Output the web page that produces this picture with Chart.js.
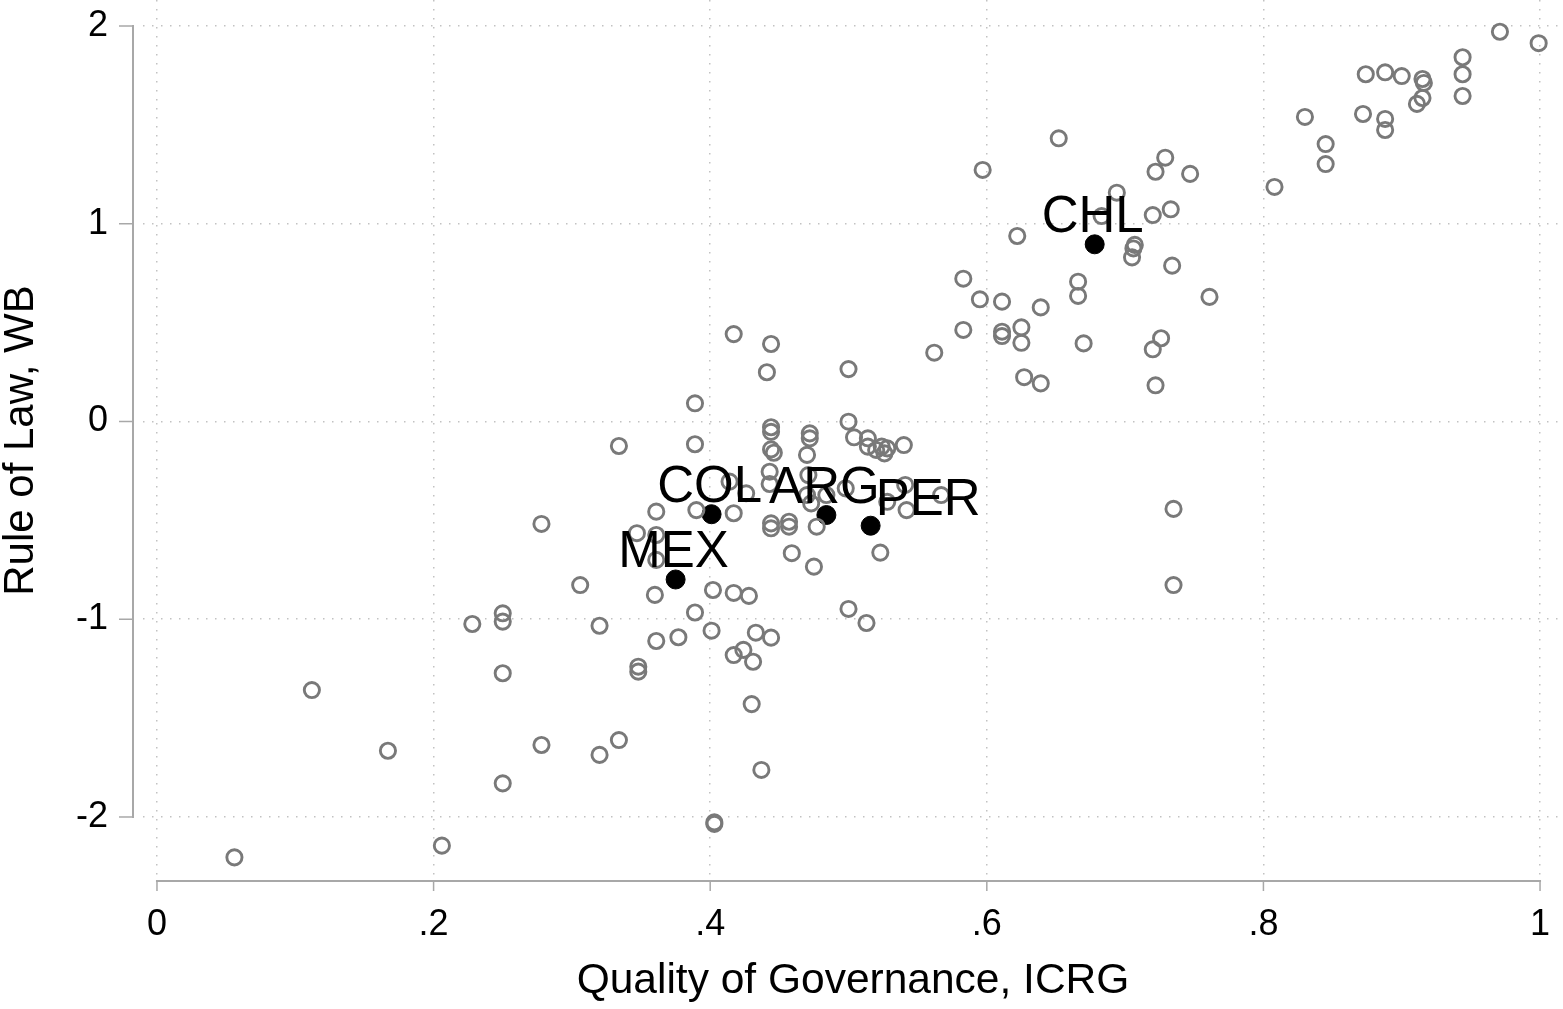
<!DOCTYPE html>
<html>
<head>
<meta charset="utf-8">
<script src="https://cdn.jsdelivr.net/npm/chart.js@4.4.1/dist/chart.umd.min.js"></script>
<style>
  html, body { margin: 0; padding: 0; background: #ffffff; }
  #wrap { width: 1563px; height: 1009px; }
</style>
</head>
<body>
<div id="wrap"><canvas id="c" width="1563" height="1009"></canvas></div>
<script>
// ---------------- DATA ----------------
// Other countries: Quality of Governance (ICRG) vs Rule of Law (WB)
const otherQoG = [
  0.971, 0.999, 0.944, 0.944, 0.944, 0.874, 0.888, 0.900, 0.915, 0.916, 0.915, 0.911,
  0.830, 0.872, 0.888, 0.888, 0.845, 0.845, 0.808,
  0.652, 0.597, 0.729, 0.722, 0.747, 0.694, 0.683, 0.720, 0.733, 0.622, 0.707, 0.706,
  0.705, 0.734, 0.583, 0.666, 0.666, 0.595, 0.611, 0.639, 0.761, 0.583, 0.611, 0.611,
  0.625, 0.625, 0.670, 0.726, 0.720, 0.562, 0.627, 0.639, 0.722, 0.735, 0.735,
  0.417, 0.444, 0.441, 0.500, 0.389, 0.334, 0.389, 0.444, 0.444, 0.444, 0.446, 0.472,
  0.472, 0.500, 0.504, 0.514, 0.514, 0.520, 0.524, 0.526, 0.528, 0.540, 0.470, 0.443,
  0.443, 0.414, 0.426, 0.471, 0.470, 0.484, 0.473, 0.498, 0.528, 0.542, 0.567, 0.541,
  0.361, 0.390, 0.417, 0.444, 0.444, 0.457, 0.457, 0.459, 0.477, 0.523, 0.475, 0.278,
  0.347, 0.361, 0.361, 0.306, 0.360, 0.402, 0.417, 0.428, 0.389, 0.228, 0.250, 0.250,
  0.320, 0.401, 0.361, 0.377, 0.433, 0.444, 0.417, 0.424, 0.431, 0.348, 0.348, 0.250,
  0.112, 0.430, 0.278, 0.167, 0.320, 0.334, 0.437, 0.250, 0.403, 0.403, 0.206, 0.056,
  0.500, 0.513
];
const otherRoL = [
  1.971, 1.913, 1.842, 1.756, 1.646, 1.756, 1.766, 1.747, 1.732, 1.712, 1.636, 1.606,
  1.540, 1.555, 1.530, 1.474, 1.403, 1.302, 1.186,
  1.432, 1.272, 1.334, 1.263, 1.252, 1.157, 1.039, 1.044, 1.073, 0.938, 0.893, 0.875,
  0.830, 0.788, 0.722, 0.707, 0.635, 0.618, 0.606, 0.577, 0.630, 0.463, 0.454, 0.432,
  0.476, 0.398, 0.395, 0.421, 0.365, 0.348, 0.224, 0.193, 0.183, -0.442, -0.827,
  0.442, 0.392, 0.249, 0.265, 0.092, -0.124, -0.115, -0.029, -0.052, -0.141, -0.158, -0.060,
  -0.085, -0.001, -0.080, -0.085, -0.127, -0.144, -0.127, -0.161, -0.136, -0.119, -0.169, -0.254,
  -0.316, -0.304, -0.363, -0.271, -0.372, -0.372, -0.414, -0.338, -0.406, -0.448, -0.372, -0.321,
  -0.456, -0.448, -0.464, -0.515, -0.540, -0.507, -0.532, -0.666, -0.532, -0.663, -0.734, -0.518,
  -0.565, -0.574, -0.700, -0.827, -0.877, -0.852, -0.867, -0.882, -0.966, -1.024, -0.970, -1.012,
  -1.033, -1.058, -1.110, -1.091, -1.068, -1.093, -1.181, -1.155, -1.215, -1.240, -1.265, -1.273,
  -1.358, -1.429, -1.636, -1.665, -1.686, -1.611, -1.762, -1.830, -2.027, -2.035, -2.145, -2.204,
  -0.948, -1.019
];

// Highlighted Latin American countries
const hlLabels = ['CHL', 'COL', 'ARG', 'PER', 'MEX'];
const hlQoG    = [0.678, 0.401, 0.484, 0.516, 0.375];
const hlRoL    = [0.896, -0.469, -0.473, -0.527, -0.799];

// Axis ticks
const xTickValues = [0, 0.2, 0.4, 0.6, 0.8, 1];
const xTickLabels = ['0', '.2', '.4', '.6', '.8', '1'];
const yTickValues = [-2, -1, 0, 1, 2];
const yTickLabels = ['-2', '-1', '0', '1', '2'];

const xTitle = 'Quality of Governance, ICRG';
const yTitle = 'Rule of Law, WB';

// ---------------- STYLE ----------------
const FONT = "'Liberation Sans', Arial, Helvetica, sans-serif";
const GRID_COLOR = '#c2c2c2';
const AXIS_COLOR = '#a8a8a8';
const labelPlacement = { PER: 'right' }; // others centred above the marker

// Axis ranges (extend a little beyond the tick range, as in the reference)
const X_MIN = -0.0101, X_MAX = 1.0166;
const Y_MIN = -2.3237, Y_MAX = 2.1315;

const toPoints = (xs, ys) => xs.map((x, i) => ({ x: x, y: ys[i] }));
const noPad = s => { s.paddingTop = 0; s.paddingBottom = 0; s.paddingLeft = 0; s.paddingRight = 0; };

// Plugin: Stata-like axis lines that only span the tick range, with tick marks
const axisLines = {
  id: 'axisLines',
  afterDraw(chart) {
    const { ctx } = chart;
    const xs = chart.scales.x, ys = chart.scales.y;
    ctx.save();
    ctx.strokeStyle = AXIS_COLOR;
    ctx.lineWidth = 2;
    ctx.lineCap = 'butt';
    // y axis
    const yAxisX = chart.chartArea.left - 10;
    ctx.beginPath();
    ctx.moveTo(yAxisX, ys.getPixelForValue(yTickValues[0]) + 1);
    ctx.lineTo(yAxisX, ys.getPixelForValue(yTickValues[yTickValues.length - 1]) - 1);
    ctx.stroke();
    ctx.lineWidth = 1.5;
    yTickValues.forEach(v => {
      const p = ys.getPixelForValue(v);
      ctx.beginPath(); ctx.moveTo(yAxisX - 14, p); ctx.lineTo(yAxisX, p); ctx.stroke();
    });
    // x axis
    ctx.lineWidth = 2;
    const xAxisY = chart.chartArea.bottom;
    ctx.beginPath();
    ctx.moveTo(xs.getPixelForValue(xTickValues[0]) - 1, xAxisY);
    ctx.lineTo(xs.getPixelForValue(xTickValues[xTickValues.length - 1]) + 1, xAxisY);
    ctx.stroke();
    ctx.lineWidth = 1.5;
    xTickValues.forEach(v => {
      const p = xs.getPixelForValue(v);
      ctx.beginPath(); ctx.moveTo(p, xAxisY); ctx.lineTo(p, xAxisY + 10); ctx.stroke();
    });
    ctx.restore();
  }
};

// Plugin: country labels for highlighted points
const pointLabels = {
  id: 'pointLabels',
  afterDatasetsDraw(chart) {
    const { ctx } = chart;
    const meta = chart.getDatasetMeta(1);
    ctx.save();
    ctx.fillStyle = '#000000';
    ctx.font = '51px ' + FONT;
    ctx.textBaseline = 'alphabetic';
    meta.data.forEach((el, i) => {
      const lab = hlLabels[i];
      if (labelPlacement[lab] === 'right') {
        ctx.textAlign = 'left';
        ctx.fillText(lab, el.x + 5, el.y - 11);
      } else {
        ctx.textAlign = 'center';
        ctx.fillText(lab, el.x - 2, el.y - 12);
      }
    });
    ctx.restore();
  }
};

new Chart(document.getElementById('c'), {
  type: 'scatter',
  data: {
    datasets: [
      {
        data: toPoints(otherQoG, otherRoL),
        pointStyle: 'circle',
        pointRadius: 7.6,
        pointBorderWidth: 2.9,
        pointBorderColor: '#797979',
        pointBackgroundColor: 'rgba(0,0,0,0)',
        pointHoverRadius: 7.6
      },
      {
        data: toPoints(hlQoG, hlRoL),
        pointStyle: 'circle',
        pointRadius: 9.5,
        pointBorderWidth: 1,
        pointBorderColor: '#000000',
        pointBackgroundColor: '#000000',
        pointHoverRadius: 9.5
      }
    ]
  },
  options: {
    responsive: false,
    animation: false,
    events: [],
    layout: { padding: 0, autoPadding: false },
    plugins: { legend: { display: false }, tooltip: { enabled: false } },
    scales: {
      x: {
        type: 'linear',
        min: X_MIN, max: X_MAX,
        afterBuildTicks: s => { s.ticks = xTickValues.map(v => ({ value: v })); },
        afterFit: s => { s.height = 128; noPad(s); },
        ticks: {
          autoSkip: false, maxRotation: 0, minRotation: 0,
          padding: 22,
          color: '#000000',
          font: { family: FONT, size: 36 },
          callback: (v, i) => xTickLabels[i]
        },
        grid: { color: GRID_COLOR, lineWidth: 1.5, drawTicks: false },
        border: { display: false, dash: [1.5, 7.5] },
        title: {
          display: true, text: xTitle, color: '#000000',
          font: { family: FONT, size: 42.5, lineHeight: 1 },
          padding: { top: 0, bottom: 6 }
        }
      },
      y: {
        type: 'linear',
        min: Y_MIN, max: Y_MAX,
        afterBuildTicks: s => { s.ticks = yTickValues.map(v => ({ value: v })); },
        afterFit: s => { s.width = 143; noPad(s); },
        ticks: {
          autoSkip: false,
          padding: 35,
          color: '#000000',
          font: { family: FONT, size: 36 },
          callback: (v, i) => yTickLabels[i]
        },
        grid: { color: GRID_COLOR, lineWidth: 1.5, drawTicks: false },
        border: { display: false, dash: [1.5, 7.5] },
        title: {
          display: true, text: yTitle, color: '#000000',
          font: { family: FONT, size: 42, lineHeight: 1 },
          padding: { top: 0, bottom: 0 }
        }
      }
    }
  },
  plugins: [axisLines, pointLabels]
});
</script>
</body>
</html>
